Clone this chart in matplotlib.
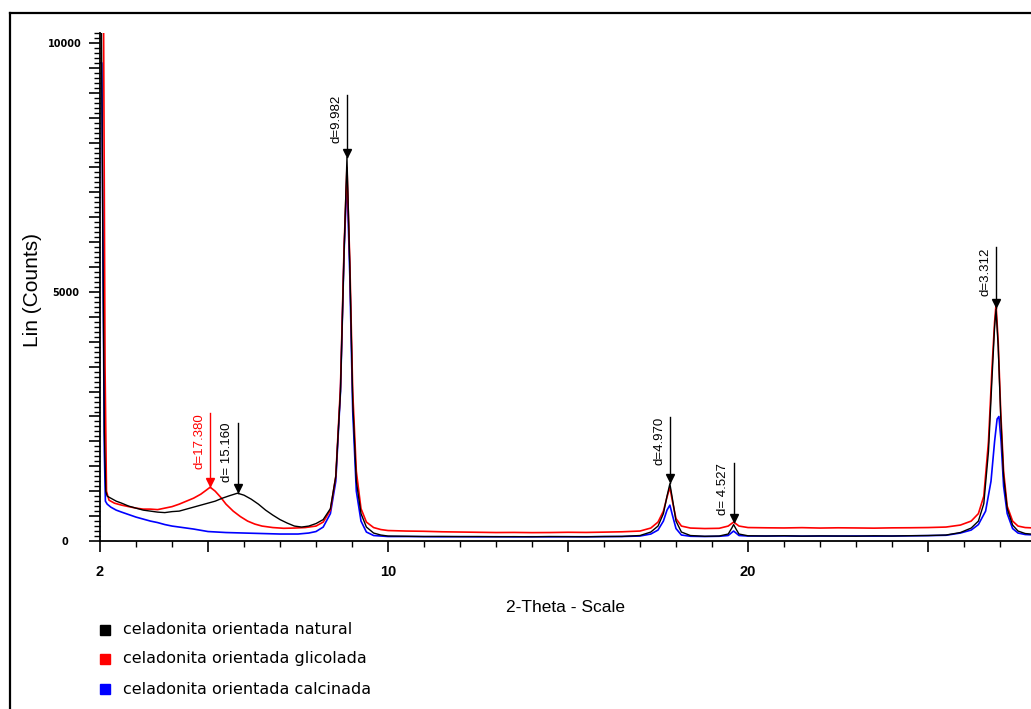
import matplotlib
matplotlib.use("Agg")
import matplotlib.pyplot as plt
from matplotlib.lines import Line2D
from matplotlib.ticker import FixedLocator, MultipleLocator, FuncFormatter

plt.rcParams['font.family'] = ['Liberation Sans', 'DejaVu Sans']

# --- data (2-theta in degrees, counts) ---
natural_2theta = [2.00, 2.04, 2.08, 2.12, 2.16, 2.2, 2.3, 2.45, 2.6, 2.8, 3.0, 3.2, 3.4, 3.6, 3.8,
                  4.0, 4.2, 4.4, 4.6, 4.8, 5.0, 5.2, 5.4, 5.6, 5.82, 6.0, 6.2, 6.4, 6.6, 6.8,
                  7.0, 7.2, 7.4, 7.6, 7.8, 8.0, 8.2, 8.4, 8.55, 8.68, 8.78, 8.86, 8.94, 9.02, 9.12,
                  9.25, 9.4, 9.6, 9.8, 10.0, 10.5, 11.0, 11.5, 12.0, 12.5, 13.0, 13.5, 14.0, 14.5,
                  15.0, 15.5, 16.0, 16.5, 17.0, 17.3, 17.5, 17.65, 17.75, 17.83, 17.9, 18.0, 18.15,
                  18.4, 18.8, 19.2, 19.45, 19.55, 19.6, 19.66, 19.75, 20.0, 20.5, 21.0, 21.5, 22.0,
                  22.5, 23.0, 23.5, 24.0, 24.5, 25.0, 25.5, 25.9, 26.2, 26.4, 26.55, 26.68, 26.78,
                  26.85, 26.89, 26.95, 27.02, 27.1, 27.2, 27.35, 27.5, 27.7, 28.0]
natural_counts = [10300, 10300, 6000, 2200, 1000, 900, 860, 800, 760, 700, 660, 620, 600, 580, 570,
                  590, 600, 640, 680, 720, 760, 800, 860, 910, 960, 920, 840, 740, 620, 520,
                  430, 360, 300, 280, 300, 350, 430, 650, 1300, 3000, 5800, 7700, 5500, 2800, 1200,
                  550, 280, 160, 120, 100, 95, 90, 92, 88, 90, 86, 88, 85, 90,
                  87, 85, 90, 92, 110, 180, 300, 550, 900, 1150, 850, 400, 180,
                  110, 95, 100, 140, 260, 330, 250, 140, 105, 100, 105, 98, 102,
                  100, 97, 104, 100, 106, 110, 120, 170, 260, 400, 750, 1800, 3300,
                  4300, 4650, 3900, 2500, 1300, 650, 320, 200, 150, 130]

glycol_2theta = [2.00, 2.06, 2.1, 2.14, 2.18, 2.25, 2.4, 2.6, 2.8, 3.0, 3.2, 3.4, 3.6, 3.8, 4.0,
                 4.2, 4.4, 4.6, 4.8, 4.95, 5.06, 5.2, 5.35, 5.5, 5.7, 5.9, 6.1, 6.3, 6.5, 6.8,
                 7.1, 7.4, 7.7, 8.0, 8.2, 8.4, 8.55, 8.68, 8.78, 8.86, 8.94, 9.02, 9.12, 9.25, 9.4,
                 9.6, 9.8, 10.0, 10.5, 11.0, 11.5, 12.0, 12.5, 13.0, 13.5, 14.0, 14.5, 15.0, 15.5,
                 16.0, 16.5, 17.0, 17.3, 17.5, 17.65, 17.75, 17.83, 17.9, 18.0, 18.15, 18.4, 18.8,
                 19.2, 19.45, 19.6, 19.75, 20.0, 20.5, 21.0, 21.5, 22.0, 22.5, 23.0, 23.5, 24.0,
                 24.5, 25.0, 25.5, 25.9, 26.2, 26.4, 26.55, 26.68, 26.78, 26.85, 26.89, 26.95,
                 27.02, 27.1, 27.2, 27.35, 27.5, 27.7, 28.0]
glycol_counts = [10300, 10300, 10300, 3500, 1000, 820, 760, 720, 690, 660, 640, 640, 630, 660, 690,
                 740, 800, 860, 940, 1020, 1080, 1000, 880, 740, 600, 490, 400, 340, 300, 270,
                 255, 260, 270, 300, 380, 620, 1300, 3100, 5900, 7500, 5600, 3000, 1400, 650, 380,
                 270, 230, 210, 200, 195, 185, 180, 175, 170, 172, 168, 170, 175, 172,
                 178, 185, 200, 260, 380, 600, 880, 1080, 800, 450, 300, 260, 250,
                 255, 300, 380, 300, 270, 265, 262, 268, 260, 265, 262, 258, 264,
                 266, 270, 280, 320, 400, 550, 900, 2000, 3500, 4400, 4750, 4000,
                 2600, 1400, 700, 400, 300, 270, 260]

calcined_2theta = [2.00, 2.05, 2.09, 2.12, 2.15, 2.2, 2.3, 2.45, 2.6, 2.8, 3.0, 3.2, 3.4, 3.6, 3.8,
                   4.0, 4.3, 4.6, 5.0, 5.5, 6.0, 6.5, 7.0, 7.5, 7.8, 8.0, 8.2, 8.4, 8.55, 8.68,
                   8.78, 8.86, 8.94, 9.02, 9.12, 9.25, 9.4, 9.6, 10.0, 10.5, 11.0, 11.5, 12.0, 12.5,
                   13.0, 13.5, 14.0, 14.5, 15.0, 15.5, 16.0, 16.5, 17.0, 17.3, 17.5, 17.65, 17.75,
                   17.83, 17.9, 18.0, 18.15, 18.4, 18.8, 19.2, 19.45, 19.6, 19.75, 20.0, 20.5, 21.0,
                   21.5, 22.0, 22.5, 23.0, 23.5, 24.0, 24.5, 25.0, 25.5, 25.9, 26.2, 26.4, 26.6,
                   26.75, 26.85, 26.92, 26.97, 27.03, 27.1, 27.2, 27.35, 27.5, 27.7, 28.0]
calcined_counts = [9600, 9600, 5000, 1800, 800, 740, 680, 620, 580, 530, 480, 440, 400, 370, 330,
                   300, 270, 240, 190, 170, 160, 150, 140, 140, 160, 190, 280, 550, 1200, 3000,
                   5800, 7300, 5300, 2600, 1000, 400, 180, 110, 90, 90, 88, 85, 87, 84,
                   86, 83, 85, 84, 86, 85, 88, 90, 100, 140, 220, 400, 620,
                   720, 520, 250, 120, 95, 90, 95, 110, 200, 110, 100, 100, 102,
                   98, 100, 99, 101, 98, 100, 104, 108, 115, 160, 220, 330, 600,
                   1200, 2000, 2450, 2500, 2000, 1100, 550, 250, 160, 130, 120]

series_names = ["celadonita orientada natural",
                "celadonita orientada glicolada",
                "celadonita orientada calcinada"]
series_colors = ["black", "red", "blue"]

# peak markers: 2-theta, arrow tip, line top, label, colour
peak_2theta = [5.06, 5.82, 8.86, 17.83, 19.60, 26.89]
peak_tip = [1085, 965, 7710, 1165, 380, 4680]
peak_top = [2570, 2370, 8955, 2490, 1570, 5900]
peak_labels = ["d=17.380", "d= 15.160", "d=9.982", "d=4.970", "d= 4.527", "d=3.312"]
peak_colors = ["red", "black", "black", "black", "black", "black"]

fig = plt.figure(figsize=(10.31, 7.09), dpi=100)
ax = fig.add_axes([100 / 1031, 1 - 541 / 709, 1 - 100 / 1031, (541 - 33) / 709])

ax.plot(calcined_2theta, calcined_counts, color="blue", lw=1.2)
ax.plot(glycol_2theta, glycol_counts, color="red", lw=1.2)
ax.plot(natural_2theta, natural_counts, color="black", lw=1.0)

for x, tip, top, lab, c in zip(peak_2theta, peak_tip, peak_top, peak_labels, peak_colors):
    ax.plot([x, x], [tip, top], color=c, lw=1.0)
    ax.plot([x], [tip + 90], marker="v", color=c, markersize=5.5)
    ax.annotate(lab, xy=(x, top), xytext=(-3, 0), textcoords="offset points",
                rotation=90, ha="right", va="top", fontsize=9.5, color=c)

ax.set_xlim(2, 2 + 931 / 36)
ax.set_ylim(0, 10200)

for s in ["top", "right"]:
    ax.spines[s].set_visible(False)
ax.spines["left"].set_linewidth(1.3)
ax.spines["bottom"].set_linewidth(1.3)

ax.xaxis.set_major_locator(FixedLocator([2, 5, 10, 15, 20, 25]))
ax.xaxis.set_minor_locator(MultipleLocator(1))
ax.xaxis.set_major_formatter(FuncFormatter(lambda v, p: "%d" % v if v in (2, 10, 20) else ""))
ax.yaxis.set_major_locator(MultipleLocator(500))
ax.yaxis.set_minor_locator(MultipleLocator(100))
ax.yaxis.set_major_formatter(FuncFormatter(lambda v, p: "%d" % v if v in (0, 5000, 10000) else ""))

ax.tick_params(axis="x", which="major", direction="out", length=8, width=1.2, pad=9.5,
               labelsize=10.5)
ax.tick_params(axis="x", which="minor", direction="out", length=4, width=1.0)
ax.tick_params(axis="y", which="major", direction="out", length=8, width=1.2, pad=17,
               labelsize=7)
ax.tick_params(axis="y", which="minor", direction="out", length=4, width=1.0)
for t in ax.get_yticklabels():
    t.set_horizontalalignment("center")
    t.set_fontweight("bold")
    t.set_family("DejaVu Sans")
for t in ax.get_xticklabels():
    t.set_fontweight("bold")

fig.text(565 / 1031, 1 - 607 / 709, "2-Theta - Scale", ha="center", va="center", fontsize=12.5)
fig.text(32 / 1031, 1 - 290 / 709, "Lin (Counts)", ha="center", va="center",
         rotation=90, fontsize=15)

# legend below the axes
legend_y = [630, 659, 689]
for name, c, yy in zip(series_names, series_colors, legend_y):
    fig.add_artist(Line2D([105 / 1031], [1 - yy / 709], marker="s", markersize=7.5,
                          markerfacecolor=c, markeredgecolor=c, transform=fig.transFigure))
    fig.text(123 / 1031, 1 - yy / 709, name, ha="left", va="center", fontsize=11.5,
             family="DejaVu Sans")

# outer frame (only left and top edges fall inside the picture)
fig.add_artist(Line2D([10 / 1031, 10 / 1031], [0, 1 - 13 / 709], color="black", lw=1.6,
                      transform=fig.transFigure))
fig.add_artist(Line2D([10 / 1031, 1], [1 - 13 / 709, 1 - 13 / 709], color="black", lw=1.6,
                      transform=fig.transFigure))

fig.savefig("out.png", dpi=100)
